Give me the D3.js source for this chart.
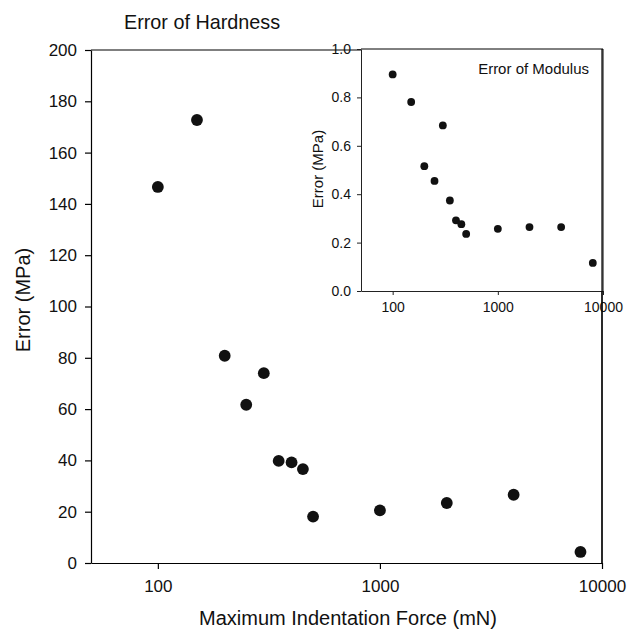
<!DOCTYPE html>
<html><head><meta charset="utf-8">
<script src="https://cdn.jsdelivr.net/npm/d3@7"></script>
<style>
body{margin:0;background:#fff;}
text{font-family:"Liberation Sans",Arial,sans-serif;}
</style></head>
<body><svg id="c" width="627" height="629"></svg>
<script>
const force = [100,150,200,250,300,350,400,450,500,1000,2000,4000,8000];
const hardnessError = [146.6,172.7,80.8,61.7,74.0,39.8,39.2,36.6,18.1,20.5,23.4,26.6,4.3];
const modulusError = [0.895,0.781,0.516,0.455,0.684,0.374,0.292,0.276,0.236,0.257,0.264,0.264,0.116];
const xTicks = [100,1000,10000];
const mainYTicks = [0,20,40,60,80,100,120,140,160,180,200];
const insetYTicks = [0,0.2,0.4,0.6,0.8,1.0];

const svg = d3.select("#c");
const fmtX = d3.format("d");

// main plot
const M = {l:91,r:602,t:50,b:563};
const x = d3.scaleLog().domain([50,10000]).range([M.l,M.r]);
const y = d3.scaleLinear().domain([0,200]).range([M.b,M.t]);

svg.append("line").attr("x1",M.l).attr("x2",M.r).attr("y1",M.t).attr("y2",M.t).attr("stroke","#000").attr("stroke-width",1.2);
svg.append("line").attr("x1",M.r).attr("x2",M.r).attr("y1",M.t).attr("y2",M.b).attr("stroke","#000").attr("stroke-width",1.2);

const gx = svg.append("g").attr("transform",`translate(0,${M.b})`)
  .call(d3.axisBottom(x).tickValues(xTicks).tickFormat(fmtX).tickSize(6).tickPadding(11).tickSizeOuter(0));
const gy = svg.append("g").attr("transform",`translate(${M.l},0)`)
  .call(d3.axisLeft(y).tickValues(mainYTicks).tickFormat(d3.format("d")).tickSize(6).tickPadding(8).tickSizeOuter(0));
[gx,gy].forEach(g=>{
  g.selectAll("path,line").attr("stroke","#000").attr("stroke-width",1.2);
  g.selectAll("text").attr("font-size",17).attr("fill","#111").style("font-family","'Liberation Sans',Arial,sans-serif");
});

svg.append("g").selectAll("circle").data(force).join("circle")
  .attr("cx",d=>x(d)).attr("cy",(d,i)=>y(hardnessError[i])).attr("r",5.9).attr("fill","#111");

svg.append("text").attr("x",124).attr("y",29).attr("font-size",19.8).attr("fill","#111").text("Error of Hardness");
svg.append("text").attr("x",348).attr("y",625).attr("text-anchor","middle").attr("font-size",20).attr("fill","#111").text("Maximum Indentation Force (mN)");
svg.append("text").attr("transform","translate(30,300) rotate(-90)").attr("text-anchor","middle").attr("font-size",20).attr("fill","#111").text("Error (MPa)");

// inset
const I = {l:361,r:603,t:49,b:291};
const xi = d3.scaleLog().domain([50,10000]).range([I.l,I.r]);
const yi = d3.scaleLinear().domain([0,1]).range([I.b,I.t]);
svg.append("rect").attr("x",I.l).attr("y",I.t).attr("width",I.r-I.l).attr("height",I.b-I.t).attr("fill","#fff");
svg.append("line").attr("x1",I.l).attr("x2",I.r).attr("y1",I.t).attr("y2",I.t).attr("stroke","#000").attr("stroke-width",1);
svg.append("line").attr("x1",I.r).attr("x2",I.r).attr("y1",I.t).attr("y2",I.b).attr("stroke","#000").attr("stroke-width",1);
const gxi = svg.append("g").attr("transform",`translate(0,${I.b})`)
  .call(d3.axisBottom(xi).tickValues(xTicks).tickFormat(fmtX).tickSize(4).tickPadding(7).tickSizeOuter(0));
const gyi = svg.append("g").attr("transform",`translate(${I.l},0)`)
  .call(d3.axisLeft(yi).tickValues(insetYTicks).tickFormat(d3.format(".1f")).tickSize(4).tickPadding(6).tickSizeOuter(0));
[gxi,gyi].forEach(g=>{
  g.selectAll("path,line").attr("stroke","#222").attr("stroke-width",1);
  g.selectAll("text").attr("font-size",14).attr("fill","#111").style("font-family","'Liberation Sans',Arial,sans-serif");
});
svg.append("g").selectAll("circle").data(force).join("circle")
  .attr("cx",d=>xi(d)).attr("cy",(d,i)=>yi(modulusError[i])).attr("r",3.9).attr("fill","#111");
svg.append("text").attr("x",589).attr("y",74).attr("text-anchor","end").attr("font-size",15).attr("fill","#111").text("Error of Modulus");
svg.append("text").attr("transform","translate(323,169) rotate(-90)").attr("text-anchor","middle").attr("font-size",15).attr("fill","#111").text("Error (MPa)");
// main right border re-drawn over inset (extends through)
svg.append("line").attr("x1",M.r).attr("x2",M.r).attr("y1",I.t).attr("y2",M.b).attr("stroke","#000").attr("stroke-width",1.2);
</script></body></html>
